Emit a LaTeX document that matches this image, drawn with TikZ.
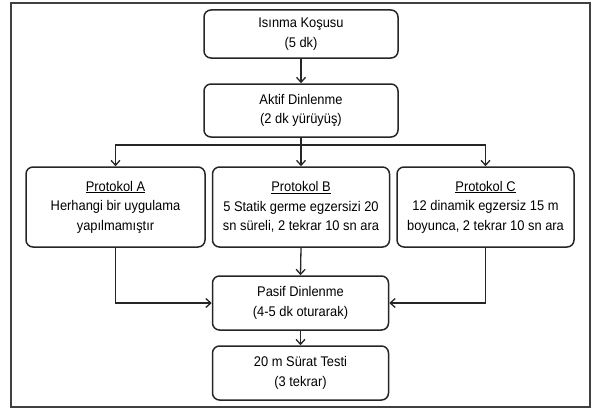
\documentclass[tikz,border=0pt]{standalone}
\usepackage{fontspec}
\setmainfont{Liberation Sans}[FakeStretch=0.92]
\usetikzlibrary{arrows.meta}
\begin{document}
\begin{tikzpicture}[x=1pt,y=-1pt,
  box/.style={draw=black!85, line width=1.5pt, rounded corners=7pt, align=center,
    inner sep=0pt, fill=white, font=\fontsize{14}{19.5}\selectfont},
  conn/.style={draw=black!85, line width=1.3pt},
  arr/.style={conn, -{Straight Barb[length=5pt,width=9pt]}}]
\useasboundingbox (0,0) rectangle (593,412);
\draw[line width=1.2pt, draw=black!75] (11,3) rectangle (590,407);
\node[box, minimum width=194pt, minimum height=48pt] (warm) at (301,34) {Isınma Koşusu\\(5 dk)};
\node[box, minimum width=194pt, minimum height=53pt] (rest) at (301,110.5) {Aktif Dinlenme\\(2 dk yürüyüş)};
\node[box, minimum width=179pt, minimum height=80pt] (pa) at (115.5,207) {\underline{Protokol A}\\Herhangi bir uygulama\\yapılmamıştır};
\node[box, minimum width=177pt, minimum height=80pt] (pb) at (301,207) {\underline{Protokol B}\\5 Statik germe egzersizi 20\\sn süreli, 2 tekrar 10 sn ara};
\node[box, minimum width=177pt, minimum height=80pt] (pc) at (485.5,207) {\underline{Protokol C}\\12 dinamik egzersiz 15 m\\boyunca, 2 tekrar 10 sn ara};
\node[box, minimum width=176pt, minimum height=54pt] (pasif) at (300.5,303) {Pasif Dinlenme\\(4-5 dk oturarak)};
\node[box, minimum width=176pt, minimum height=54pt] (test) at (300.5,373) {20 m Sürat Testi\\(3 tekrar)};
\coordinate (br) at (301,145);
\draw[arr] (warm) -- (rest);
\draw[conn] (rest.south) -- (br);
\draw[arr] (br) -| (pa.north);
\draw[arr] (br) -| (pc.north);
\draw[arr] (br) -- (pb.north);
\draw[arr] (pa.south) |- (pasif.west);
\draw[arr] (pc.south) |- (pasif.east);
\draw[arr] (pb.south) -- (pasif.north);
\draw[arr] (pasif) -- (test);
\end{tikzpicture}
\end{document}
